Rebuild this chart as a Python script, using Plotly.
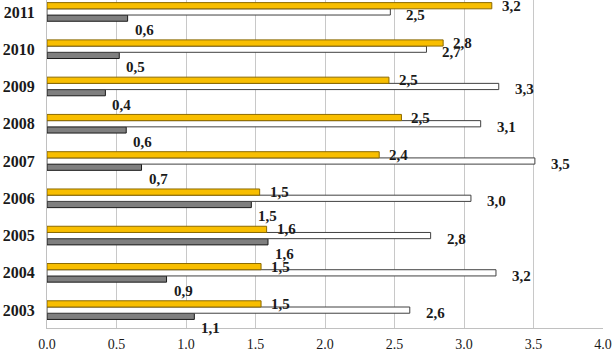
import plotly.graph_objects as go

years = ["2003", "2004", "2005", "2006", "2007", "2008", "2009", "2010", "2011"]
yellow_vals = [1.54, 1.54, 1.58, 1.53, 2.39, 2.55, 2.46, 2.85, 3.20]
white_vals = [2.61, 3.23, 2.76, 3.05, 3.51, 3.12, 3.25, 2.73, 2.47]
gray_vals = [1.06, 0.86, 1.59, 1.47, 0.68, 0.57, 0.42, 0.52, 0.58]

yellow_labels = ["1,5", "1,5", "1,6", "1,5", "2,4", "2,5", "2,5", "2,8", "3,2"]
white_labels = ["2,6", "3,2", "2,8", "3,0", "3,5", "3,1", "3,3", "2,7", "2,5"]
gray_labels = ["1,1", "0,9", "1,6", "1,5", "0,7", "0,6", "0,4", "0,5", "0,6"]

fig = go.Figure()
# In horizontal grouped bars, later traces are drawn higher; order gray, white, yellow
fig.add_trace(go.Bar(y=years, x=gray_vals, orientation="h", name="gray",
                     marker=dict(color="#7F7F7F", line=dict(color="#1a1a1a", width=1))))
fig.add_trace(go.Bar(y=years, x=white_vals, orientation="h", name="white",
                     marker=dict(color="#FFFFFF", line=dict(color="#404040", width=1))))
fig.add_trace(go.Bar(y=years, x=yellow_vals, orientation="h", name="yellow",
                     marker=dict(color="#F8BE00", line=dict(color="#8C6A00", width=1))))

font_lbl = dict(family="Liberation Serif", size=15, color="#1a1a1a")
bar_px = 6.2
for i, y in enumerate(years):
    fig.add_annotation(x=yellow_vals[i], y=i, text="<b>%s</b>" % yellow_labels[i],
                       showarrow=False, xanchor="left", xshift=8, yshift=bar_px,
                       font=font_lbl)
    fig.add_annotation(x=white_vals[i], y=i, text="<b>%s</b>" % white_labels[i],
                       showarrow=False, xanchor="left", xshift=14, yshift=-3,
                       font=font_lbl)
    fig.add_annotation(x=gray_vals[i], y=i, text="<b>%s</b>" % gray_labels[i],
                       showarrow=False, xanchor="left", xshift=5, yshift=-bar_px - 12,
                       font=font_lbl)

fig.update_layout(
    width=614, height=353,
    margin=dict(l=47, r=11, t=0, b=25),
    paper_bgcolor="white", plot_bgcolor="white",
    barmode="group", bargap=0.5, bargroupgap=0,
    showlegend=False,
    xaxis=dict(range=[0, 4.0], tickvals=[0, 0.5, 1.0, 1.5, 2.0, 2.5, 3.0, 3.5, 4.0],
               ticktext=["0.0", "0.5", "1.0", "1.5", "2.0", "2.5", "3.0", "3.5", "4.0"],
               showgrid=True, gridcolor="#C8C8C8", gridwidth=1,
               showline=True, linecolor="#C0C0C0", linewidth=1,
               zeroline=False, ticks="", ticklen=0, automargin=False,
               ticklabelstandoff=3,
               tickfont=dict(family="Liberation Serif", size=14, color="#1a1a1a")),
    yaxis=dict(type="category", categoryorder="array", categoryarray=years,
               range=[-0.48, 8.32], automargin=False,
               showgrid=False, showline=True, linecolor="#C0C0C0", linewidth=1,
               zeroline=False, ticks="", ticklen=0, ticklabelstandoff=8,
               tickfont=dict(family="Liberation Serif", size=16, color="#1a1a1a")),
)
fig.update_yaxes(tickprefix="<b>", ticksuffix="</b>")

fig.write_html("out.html", config={"displayModeBar": False},
               post_script="document.body.style.margin='0';document.body.style.padding='0';")
